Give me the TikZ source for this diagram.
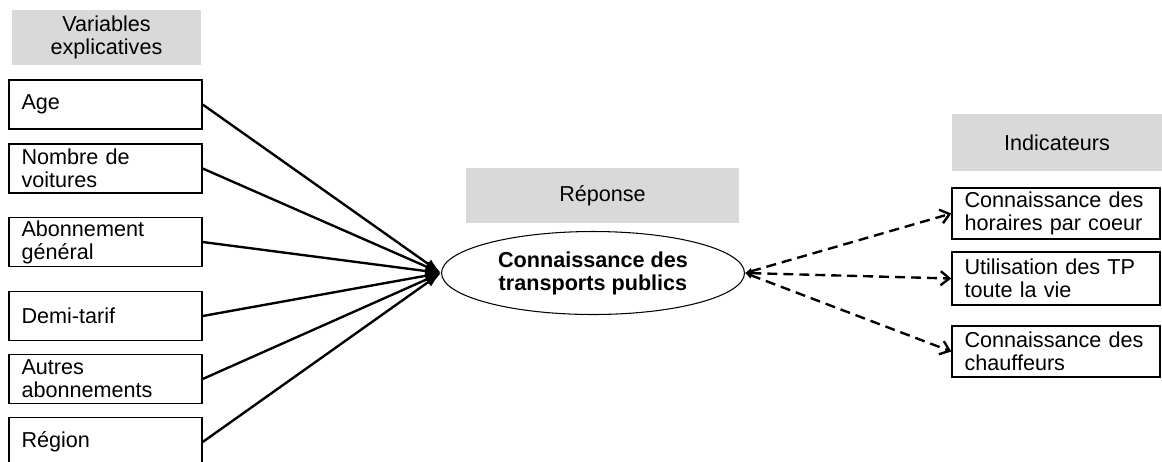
\documentclass[tikz,border=0pt]{standalone}
\usepackage{fontspec}
\setmainfont{Liberation Sans}
\usetikzlibrary{shapes.geometric, arrows.meta}
\definecolor{headgray}{HTML}{D9D9D9}

\begin{document}
\begin{tikzpicture}[x=0.02cm, y=-0.02cm, font=\fontsize{12.3}{13.2}\selectfont,
	header/.style={fill=headgray, minimum height=1.1cm, align=center, inner sep=0pt},
	varbox/.style={draw, line width=0.8pt, minimum width=3.86cm, minimum height=0.98cm, text width=3.36cm, inner xsep=0.25cm, inner ysep=0pt, align=left},
	indbox/.style={varbox, minimum width=4.16cm, text width=3.66cm, minimum height=1.02cm},
	solidarrow/.style={line width=1.35pt, -{Latex[length=9pt, width=6pt]}},
	dasharrow/.style={line width=1.35pt, dash pattern=on 5.7pt off 3.4pt, {Latex[length=4pt, width=4pt]}-{Straight Barb[length=5pt, width=8pt]}}]
			
			\clip (0,0) rectangle (1162,461);
			
			% Variables explicatives
			\node[header, minimum width=3.78cm] (hvar) at (106.5, 37.5) {Variables\\explicatives};
			\node[varbox] (age) at (105.5, 104.5) {Age};
			\node[varbox] (voit) at (105.5, 168.5) {Nombre de\\voitures};
			\node[varbox] (ag) at (105.5, 242) {Abonnement\\général};
			\node[varbox] (demi) at (105.5, 316) {Demi-tarif};
			\node[varbox] (autres) at (105.5, 379) {Autres\\abonnements};
			\node[varbox] (region) at (105.5, 442) {Région};
			
			% Reponse
			\node[header, minimum width=5.46cm] (hrep) at (602.5, 195.5) {Réponse};
			\node[draw, ellipse, line width=0.6pt, minimum width=6.06cm, minimum height=1.66cm, inner sep=0pt, align=center, font=\fontsize{12.3}{13.2}\selectfont\bfseries] (rep) at (593, 273) {Connaissance des\\transports publics};
			
			% Indicateurs
			\node[header, minimum width=4.2cm, minimum height=1.14cm] (hind) at (1057, 142.5) {Indicateurs};
			\node[indbox] (hor) at (1056, 213.5) {Connaissance des\\horaires par coeur};
			\node[indbox, minimum height=1.06cm] (util) at (1056, 278.5) {Utilisation des TP\\toute la vie};
			\node[indbox] (chauf) at (1056, 351.5) {Connaissance des\\chauffeurs};
			
			% Fleches
			\foreach \v in {age, voit, ag, demi, autres, region}
				\draw[solidarrow] (\v.east) -- (rep.west);
			\foreach \i in {hor, util, chauf}
				\draw[dasharrow] (rep.east) -- (\i.west);
			
		\end{tikzpicture}
\end{document}
